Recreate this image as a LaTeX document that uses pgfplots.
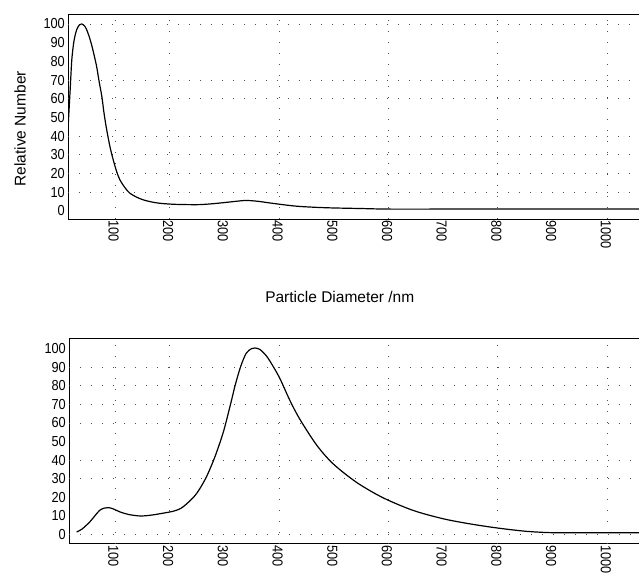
\documentclass[border=0pt]{standalone}
\usepackage{fontspec}
\setmainfont{Liberation Sans}
\newfontfamily\tickfont[FakeStretch=0.88]{Liberation Sans}
\usepackage{pgfplots}
\pgfplotsset{compat=1.18}
\pgfplotstableread{
x y
14 44
18 65
21 81
25 91
30 97
35 99.5
39 100
44 99
48 97
53 93
57 89
62 83
66.5 77
71 69
76 61
80 52
85 43
91 34
97 27
103 21
109 16.6
118 12.5
127 9.5
140 7.3
152 5.9
167 4.8
182 4.1
205 3.6
231 3.4
255 3.4
280 3.9
310 4.8
338 5.6
360 5.2
380 4.4
398 3.7
420 2.9
438 2.4
470 1.9
500 1.6
550 1.3
600 1.0
700 1.0
800 1.0
900 1.0
1058 1.0
}\topdata
\pgfplotstableread{
x y
30 1.4
40 3
54 6.8
63 10
72 13
80 14.2
88 14.5
97 13.8
109 12.2
125 10.8
146 10
165 10.4
182 11.2
206 12.5
220 14
231 16.5
245 20.5
255 24.6
268 31.5
283 42
298 55
310 68.5
320 80.5
330 90.5
340 97.5
350 100
356 100.3
365 99.5
377 96
390 90
402 83.6
420 72
438 62
469 48
499 38
542 28
590 19.8
645 13
700 8.5
750 5.7
800 3.5
850 1.8
890 1.1
920 1
1058 1
}\botdata
\pgfplotsset{
  myax/.style={
    scale only axis,
    axis x line*=box,
    axis y line*=left,
    axis line style={black, line width=0.9pt},
    xtick={100,200,...,1000},
    ytick={0,10,...,100},
    major tick length=0pt,
    tick style={draw=none},
    /pgf/number format/assume math mode=true,
    /pgf/number format/1000 sep={},
    tick label style={font=\tickfont\fontsize{14.5}{15}\selectfont},
    xticklabel style={rotate=-90, anchor=west, inner sep=1.5pt, yshift=-1.5pt},
    yticklabel style={anchor=east, inner sep=1.5pt, xshift=-1.5pt},
    label style={font=\fontsize{15.5}{16}\selectfont},
    extra x ticks={100,200,400,600,800,1000},
    extra x tick labels={},
    extra tick style={major tick length=0pt, grid=major},
    major grid style={black!70, line width=0.8pt, dash pattern=on 1pt off 10pt},
  }
}
\begin{document}
\begin{tikzpicture}
\path[use as bounding box] (0pt,0pt) rectangle (639pt,-575pt);
\begin{axis}[myax,
  at={(68pt,-14pt)}, anchor=north west,
  width=571pt, height=205pt,
  xmin=14, xmax=1058, ymin=-4.3, ymax=105.3,
  extra y ticks={10,20,30,40,60,70,100},
  extra y tick labels={},
  xlabel={Particle Diameter /nm},
  ylabel={Relative Number},
  xlabel style={at={(axis description cs:0.476,-0.38)}, anchor=center},
  ylabel style={at={(axis description cs:-0.084,0.44)}, anchor=center, rotate=0},
]
\addplot[black, line width=1.2pt, smooth, tension=0.5] table[x=x,y=y] {\topdata};
\end{axis}
\begin{axis}[myax,
  at={(69pt,-338.5pt)}, anchor=north west,
  width=570pt, height=205pt,
  xmin=16, xmax=1058, ymin=-4.8, ymax=105.4,
  extra y ticks={0,30,40,60,70,80,90},
  extra y tick labels={},
]
\addplot[black, line width=1.2pt, smooth, tension=0.5] table[x=x,y=y] {\botdata};
\end{axis}
\end{tikzpicture}
\end{document}
